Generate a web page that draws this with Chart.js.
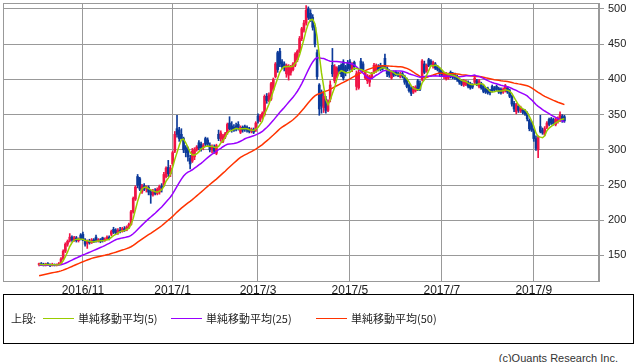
<!DOCTYPE html>
<html lang="ja">
<head>
<meta charset="UTF-8">
<title>株価チャート</title>
<style>
    body {
        margin: 0;
        width: 638px;
        height: 362px;
        position: relative;
        overflow: hidden;
        background: #fff;
        font-family: "Liberation Sans", Arial, sans-serif;
    }
    #chart { position: absolute; left: 0; top: 0; display: block; }
    .legend-box {
        position: absolute; left: 3px; top: 294px;
        width: 631px; height: 50px;
        border: 1px solid #000; box-sizing: border-box;
    }
    .lg { position: absolute; top: 311px; font-family: "Noto Sans CJK JP", sans-serif; font-size: 11px; line-height: 14px; color: #222; white-space: nowrap; }
    .sw { position: absolute; top: 318px; width: 31px; height: 1px; }
    .copy { position: absolute; top: 351px; right: 20px; font-size: 11px; line-height: 14px; color: #333; }
</style>
</head>
<body>
    <canvas id="chart" width="638" height="300"></canvas>

    <div class="legend-box"></div>
    <span class="lg" style="left:11px">上段:</span>
    <span class="sw" style="left:43px;background:#99cc00"></span>
    <span class="lg" style="left:78px">単純移動平均(5)</span>
    <span class="sw" style="left:171px;background:#9900ff"></span>
    <span class="lg" style="left:206px">単純移動平均(25)</span>
    <span class="sw" style="left:316px;background:#ff3300"></span>
    <span class="lg" style="left:351px">単純移動平均(50)</span>
    <span class="copy">(c)Ouants Research Inc.</span>

    <script src="https://cdn.jsdelivr.net/npm/chart.js"></script>
    <script>
        // 月ごとの営業日数 (2016/10 〜 2017/9)
        const monthLabels = ['2016/10', '2016/11', '2016/12', '2017/1', '2017/2', '2017/3',
                             '2017/4', '2017/5', '2017/6', '2017/7', '2017/8', '2017/9'];
        const monthDays = [20, 20, 21, 19, 20, 22, 20, 20, 22, 20, 22, 15];
        const yTicks = [150, 200, 250, 300, 350, 400, 450, 500];

        // 日足 (始値・高値・安値・終値)
        const opens = [
            137,138,137,136,138,137,136,137,136,137,138,145,156,166,171,176,172,175,171,179,
            180,172,167,170,168,172,176,171,172,175,171,173,176,180,187,186,182,186,184,188,
            186,190,194,212,230,262,259,240,249,246,247,240,236,241,238,240,248,250,262,275,266,
            280,298,330,328,322,316,303,300,288,284,290,300,310,308,303,316,314,306,300,
            304,295,322,316,312,318,324,338,334,332,334,336,325,332,333,332,330,327,329,328,
            348,342,346,350,376,370,372,386,404,438,440,425,422,408,406,410,414,420,428,440,458,470,
            480,500,494,488,474,438,392,382,360,372,356,372,420,398,405,418,420,425,418,424,
            425,414,424,390,388,426,422,402,398,396,404,410,412,418,420,418,430,416,412,402,
            410,410,408,404,408,404,400,392,388,382,384,398,394,400,422,412,428,426,418,422,418,414,
            410,404,401,402,410,408,406,404,400,398,392,393,396,394,392,396,398,390,394,390,
            386,387,384,390,388,390,387,386,382,384,388,384,376,366,354,362,355,356,355,352,342,338,
            328,316,300,333,328,322,332,343,344,343,336,340,342,348,347
        ];
        const highs = [
            139,140,139,139,140,138,139,138,138,140,147,158,168,172,181,178,177,177,175,181,
            183,174,172,173,174,174,179,174,174,176,175,178,178,186,190,188,188,190,190,191,
            192,196,214,233,249,265,261,251,252,249,249,243,244,245,246,250,252,268,276,285,278,
            298,326,349,332,330,318,306,304,292,302,303,306,313,311,309,318,317,310,307,
            307,308,328,327,322,325,338,347,340,336,338,340,334,334,335,334,332,331,331,340,
            351,350,354,378,380,381,396,402,424,440,444,428,425,422,421,420,424,438,442,461,474,484,
            505,503,499,492,477,442,394,385,382,376,371,398,444,421,418,420,422,428,420,427,
            428,424,426,412,413,430,425,412,407,406,410,423,422,421,423,420,436,418,414,412,
            412,412,410,410,410,406,402,394,390,390,391,400,398,428,426,422,430,428,426,424,420,416,
            413,410,410,409,412,410,409,406,402,400,400,399,398,396,394,404,400,400,396,392,
            388,389,386,392,390,392,389,388,388,393,390,386,378,369,366,364,362,358,357,354,344,340,
            330,320,320,349,331,333,340,345,346,345,345,347,354,350,349
        ];
        const lows = [
            135,136,135,135,136,134,135,135,135,136,137,144,154,163,169,170,170,169,169,172,
            171,163,160,166,167,168,169,169,168,169,170,172,172,178,181,180,180,182,183,184,
            185,188,193,210,228,246,242,238,242,240,236,224,234,236,236,237,240,248,260,262,262,
            278,296,318,312,314,296,290,284,273,282,286,298,300,298,300,305,305,297,296,
            295,293,313,312,310,316,322,328,325,326,327,328,323,325,326,325,324,324,323,326,
            338,340,344,348,366,368,370,384,402,410,418,415,412,403,399,406,412,418,425,438,455,467,
            477,485,482,470,446,400,349,352,353,352,354,368,404,395,402,408,404,399,405,412,
            413,411,414,385,386,412,411,400,394,390,401,408,410,412,412,413,416,404,403,400,
            404,405,404,402,402,393,388,382,377,380,382,384,384,398,408,410,418,420,416,414,412,405,
            404,401,399,400,402,401,400,397,393,391,390,391,388,386,387,394,391,388,386,381,
            380,379,378,382,383,384,380,379,380,382,380,374,362,354,351,353,353,351,349,341,327,326,
            312,299,289,324,322,320,330,334,336,335,334,338,340,339,339
        ];
        const closes = [
            138,137,136,138,137,136,137,136,137,138,145,156,166,170,176,172,175,171,173,174,
            172,166,170,168,172,170,171,172,170,171,173,176,174,184,183,182,186,184,188,186,
            190,194,212,231,247,250,244,249,244,247,240,236,241,238,244,248,246,265,274,266,274,
            296,322,322,316,316,300,296,290,280,298,300,304,303,302,306,308,308,300,304,
            298,306,316,324,320,323,336,330,328,328,330,332,332,328,329,328,326,329,325,338,
            341,348,352,376,370,378,394,400,422,414,422,418,416,420,418,418,422,436,440,458,472,480,
            498,488,486,474,450,404,358,362,376,356,368,392,408,418,416,412,408,402,410,415,
            416,421,418,408,410,414,414,410,405,404,408,420,420,414,414,416,418,408,406,410,
            406,407,406,408,405,396,390,384,380,388,389,386,386,426,410,420,420,422,424,416,414,408,
            406,408,408,407,404,403,402,400,396,393,398,397,390,388,389,402,393,398,388,383,
            382,381,381,384,385,386,382,381,386,391,382,376,365,358,364,356,360,353,351,344,330,328,
            316,302,318,326,324,330,338,336,338,337,343,345,350,342,341
        ];
        // 表示期間より前の終値 (移動平均の計算用、2016/8〜9)
        const priorCloses = [
            100,101,103,102,104,103,105,104,106,105,104,103,105,106,105,104,106,107,106,108,107,109,110,112,
            130,134,136,135,137,136,134,135,137,138,136,135,134,136,137,135,136,138,137,136,135,137,138,136,137
        ];

        const UP = '#f01446';
        const DOWN = '#0c3a9a';

        // 月初の位置と目盛りラベル (奇数月のみ表示)
        const tickIdx = [];
        const tickText = {};
        let pos = 0;
        monthLabels.forEach((m, i) => {
            if (i % 2 === 1) {
                tickIdx.push(pos);
                tickText[pos] = m;
            }
            pos += monthDays[i];
        });

        // 単純移動平均
        const allCloses = priorCloses.concat(closes);
        function sma(n) {
            return closes.map((c, d) => {
                const end = priorCloses.length + d;
                let sum = 0;
                for (let k = end - n + 1; k <= end; k++) sum += allCloses[k];
                return { x: d, y: sum / n };
            });
        }

        const wickData = closes.map((c, d) => ({ x: d, y: [lows[d], highs[d]] }));
        const bodyData = closes.map((c, d) => ({ x: d, y: [opens[d], c] }));
        const candleColors = closes.map((c, d) => c >= opens[d] ? UP : DOWN);

        // プロット枠
        const frame = {
            id: 'frame',
            afterDraw(chart) {
                const a = chart.chartArea;
                const ctx = chart.ctx;
                ctx.save();
                ctx.strokeStyle = '#999';
                ctx.lineWidth = 1;
                ctx.strokeRect(a.left + 0.5, a.top + 0.5, a.right - a.left - 1, a.bottom - a.top);
                ctx.restore();
            }
        };

        new Chart(document.getElementById('chart').getContext('2d'), {
            type: 'bar',
            data: {
                datasets: [
                    { type: 'line', label: '単純移動平均(5)', data: sma(5), borderColor: '#99cc00', borderWidth: 1.5, pointRadius: 0, tension: 0 },
                    { type: 'line', label: '単純移動平均(25)', data: sma(25), borderColor: '#9900ff', borderWidth: 1.5, pointRadius: 0, tension: 0 },
                    { type: 'line', label: '単純移動平均(50)', data: sma(50), borderColor: '#ff3300', borderWidth: 1.5, pointRadius: 0, tension: 0 },
                    { label: 'body', data: bodyData, backgroundColor: candleColors, barThickness: 2, grouped: false, minBarLength: 1, borderWidth: 0 },
                    { label: 'wick', data: wickData, backgroundColor: candleColors, barThickness: 1, grouped: false, borderWidth: 0 }
                ]
            },
            options: {
                responsive: false,
                animation: false,
                devicePixelRatio: 1,
                layout: { padding: { left: 3, top: 3, right: 0, bottom: 0 } },
                plugins: {
                    legend: { display: false },
                    tooltip: { enabled: false }
                },
                scales: {
                    x: {
                        type: 'linear',
                        min: -16.5,
                        max: 255.8,
                        offset: false,
                        afterBuildTicks: axis => { axis.ticks = tickIdx.map(v => ({ value: v })); },
                        afterFit: axis => {
                            axis.height = 19;
                            axis.paddingLeft = 0;
                            axis.paddingRight = 0;
                        },
                        ticks: {
                            autoSkip: false,
                            maxRotation: 0,
                            padding: 2,
                            color: '#222',
                            font: { family: '"Liberation Sans", Arial, sans-serif', size: 12 },
                            callback: v => tickText[v] || ''
                        },
                        grid: { color: '#999', offset: false, drawTicks: false },
                        border: { color: '#999' }
                    },
                    y: {
                        position: 'right',
                        min: 113.7,
                        max: 508.5,
                        afterBuildTicks: axis => { axis.ticks = yTicks.map(v => ({ value: v })); },
                        afterFit: axis => {
                            axis.width = 39;
                            axis.paddingTop = 0;
                            axis.paddingBottom = 0;
                        },
                        ticks: {
                            padding: 4,
                            color: '#222',
                            font: { family: '"Liberation Sans", Arial, sans-serif', size: 11 }
                        },
                        grid: { color: '#999', tickLength: 5, tickColor: '#999' },
                        border: { color: '#999' }
                    }
                }
            },
            plugins: [frame]
        });
    </script>
</body>
</html>
